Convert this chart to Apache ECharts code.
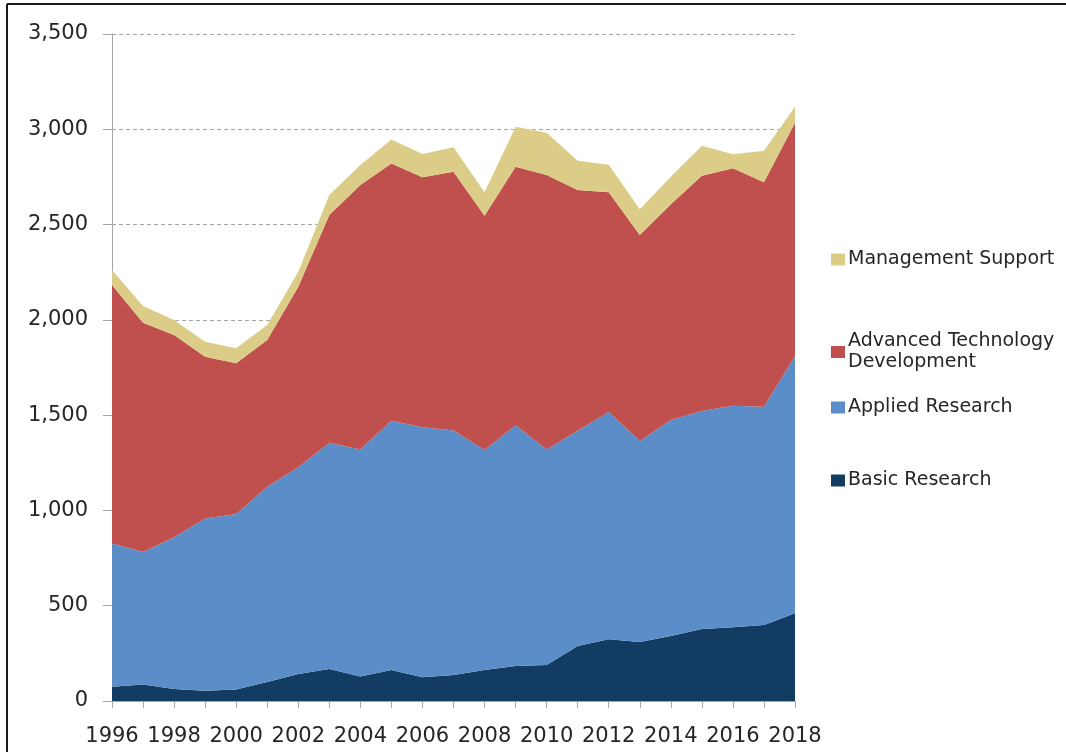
<!DOCTYPE html>
<html>
<head>
<meta charset="utf-8">
<script src="https://cdn.jsdelivr.net/npm/echarts@6/dist/echarts.min.js"></script>
<style>
html,body{margin:0;padding:0;background:#fff;}
#chart{width:1066px;height:752px;}
</style>
</head>
<body>
<div id="chart"></div>
<script>
const years = ['1996','1997','1998','1999','2000','2001','2002','2003','2004','2005','2006','2007','2008','2009','2010','2011','2012','2013','2014','2015','2016','2017','2018'];
const basicResearch = [75,87,63,54,61,100,142,168,128,163,124,136,163,184,189,289,324,310,341,378,387,399,460];
const appliedResearch = [752,695,796,903,920,1024,1084,1187,1192,1308,1312,1284,1154,1263,1131,1129,1192,1054,1133,1144,1162,1145,1350];
const advancedTechDev = [1356,1203,1061,850,791,770,948,1195,1387,1350,1312,1357,1229,1356,1440,1263,1153,1081,1132,1234,1246,1178,1224];
const managementSupport = [78,88,79,78,79,79,79,105,105,126,122,129,123,210,222,154,145,136,145,158,74,166,84];
const yTicks = [0,500,1000,1500,2000,2500,3000,3500];

const seriesNames = ['Basic Research','Applied Research','Advanced Technology Development','Management Support'];
const seriesData = [basicResearch, appliedResearch, advancedTechDev, managementSupport];
const colors = ['#133c63','#5b8dc9','#c0504d','#dbcd88'];

const font = 'DejaVu Sans';
const textColor = '#262626';

const chart = echarts.init(document.getElementById('chart'));

function legendFor(name, top) {
  return {
    data: [name],
    left: 826,
    top: top,
    orient: 'vertical',
    itemWidth: 14,
    itemHeight: 12,
    itemGap: 0,
    icon: 'rect',
    selectedMode: false,
    textStyle: {fontFamily: font, fontSize: 19, color: textColor, lineHeight: 21, padding: [0,0,0,-2]},
    formatter: function (n) { return n === 'Advanced Technology Development' ? 'Advanced Technology\nDevelopment' : n; }
  };
}

chart.setOption({
  animation: false,
  backgroundColor: '#fff',
  color: colors,
  grid: {left: 112, right: 271, top: 34, bottom: 51, containLabel: false},
  legend: [
    legendFor('Management Support', 244),
    legendFor('Advanced Technology Development', 326),
    legendFor('Applied Research', 392),
    legendFor('Basic Research', 465)
  ],
  xAxis: {
    type: 'category',
    data: years,
    boundaryGap: false,
    axisLine: {lineStyle: {color: '#a6a6a6', width: 1}},
    axisTick: {show: true, interval: 0, length: 7, lineStyle: {color: '#a6a6a6'}},
    axisLabel: {interval: 1, fontFamily: font, fontSize: 21, color: textColor, margin: 25}
  },
  yAxis: {
    type: 'value',
    min: yTicks[0],
    max: yTicks[yTicks.length - 1],
    interval: 500,
    axisLine: {show: true, lineStyle: {color: '#a6a6a6', width: 1}},
    axisTick: {show: true, length: 9, lineStyle: {color: '#a6a6a6'}},
    splitLine: {show: true, lineStyle: {color: '#a6a6a6', type: [4, 3], width: 1}},
    axisLabel: {
      fontFamily: font, fontSize: 21, color: textColor, margin: 24,
      formatter: function (v) { return v.toLocaleString('en-US'); }
    }
  },
  series: seriesNames.map(function (name, i) {
    return {
      name: name,
      type: 'line',
      stack: 'total',
      data: seriesData[i],
      symbol: 'none',
      lineStyle: {width: 0},
      areaStyle: {color: colors[i], opacity: 1},
      itemStyle: {color: colors[i]},
      z: 2
    };
  }),
  graphic: [
    {type: 'line', shape: {x1: 7, y1: 4, x2: 1066, y2: 4}, style: {stroke: '#1a1a1a', lineWidth: 2}},
    {type: 'line', shape: {x1: 7, y1: 4, x2: 7, y2: 752}, style: {stroke: '#1a1a1a', lineWidth: 2}}
  ]
});
</script>
</body>
</html>
